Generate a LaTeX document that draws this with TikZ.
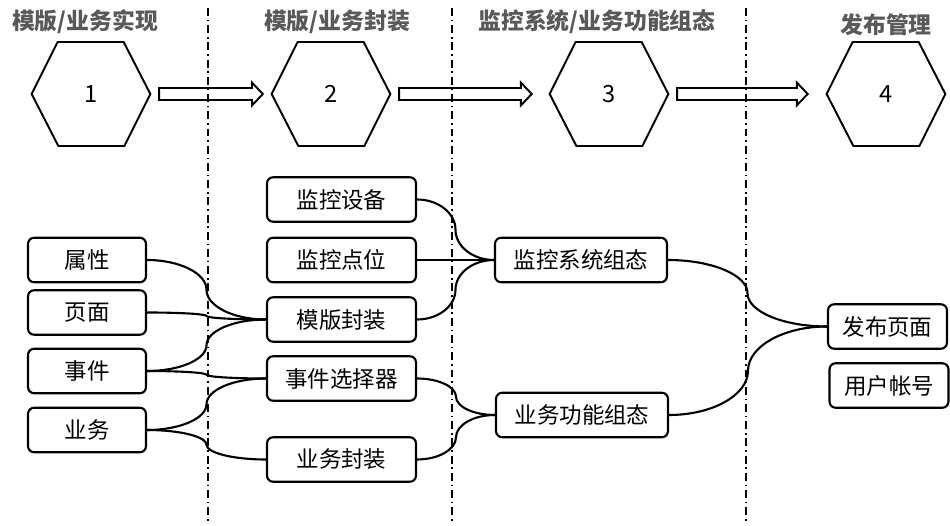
\documentclass[tikz,border=0pt]{standalone}
\usepackage{fontspec}
\setmainfont{Noto Sans CJK SC}
\usetikzlibrary{calc}

% curly link between boxes: two quarter-ellipses meeting halfway
\newcommand\linkbox[2]{\draw[link] let \p1=(#1.east), \p2=(#2.west), \p3=($(#1.east)!.5!(#2.west)$) in
  (\p1) .. controls (\x1+0.55*\x3-0.55*\x1,\y1) and (\x3,\y3+0.55*\y1-0.55*\y3) .. (\p3)
  .. controls (\x3,\y3+0.55*\y2-0.55*\y3) and (\x2-0.55*\x2+0.55*\x3,\y2) .. (\p2);}
% hollow arrow between two hexagons
\newcommand\fatarrow[3]{\draw[line width=1.1pt] let \p1=(#1.east), \p2=(#2.west) in
  (\x1+5pt,\y1+3.4pt) -- (\x2-#3-6.2pt,\y1+3.4pt) -- (\x2-#3-6.2pt,\y1+6.5pt) -- (\x2-#3,\y1)
  -- (\x2-#3-6.2pt,\y1-6.5pt) -- (\x2-#3-6.2pt,\y1-3.4pt) -- (\x1+5pt,\y1-3.4pt) -- cycle;}

\tikzset{
  box/.style={draw, line width=1.2pt, rounded corners=3.5pt, minimum height=0.89cm, inner sep=0pt, font=\fontsize{12.8}{14}\selectfont},
  hexnum/.style={minimum width=2.36cm, minimum height=2.08cm, inner sep=0pt, font=\fontsize{13.5}{16}\selectfont},
  title/.style={text=black!65, font=\fontsize{13}{16}\selectfont\bfseries},
  divider/.style={line width=0.9pt, dash pattern=on 4.5pt off 2.2pt on 0.9pt off 2.2pt},
  link/.style={line width=1.2pt},
}

\begin{document}
\begin{tikzpicture}[x=0.02cm, y=-0.02cm]
  \useasboundingbox (0,0) rectangle (950,526);

  % dividers
  \draw[divider] (208,8) -- (208,522);
  \draw[divider] (452,8) -- (452,522);
  \draw[divider] (746,8) -- (746,522);

  % titles
  \node[title] (t1) at (85,22) {模版/业务实现};
  \node[title] (t2) at (337,22) {模版/业务封装};
  \node[title] (t3) at (597,22) {监控系统/业务功能组态};
  \node[title] (t4) at (886,25) {发布管理};

  % hexagons
  \foreach \n/\x in {1/91,2/331,3/609,4/886}{
    \node[hexnum] (hex\n) at (\x,94) {\n};
    \draw[line width=1.1pt] (hex\n.west) -- ++(26,-52) -- ++(66,0) -- (hex\n.east) -- ++(-26,52) -- ++(-66,0) -- cycle;
  }
  \fatarrow{hex1}{hex2}{5pt}
  \fatarrow{hex2}{hex3}{10.2pt}
  \fatarrow{hex3}{hex4}{10.8pt}

  % column 1
  \node[box, minimum width=2.36cm] (attr) at (87,260) {属性};
  \node[box, minimum width=2.36cm] (page) at (87,312.5) {页面};
  \node[box, minimum width=2.36cm] (event) at (87,371) {事件};
  \node[box, minimum width=2.36cm] (biz) at (87,430) {业务};

  % column 2
  \node[box, minimum width=2.98cm] (dev) at (341.5,199.5) {监控设备};
  \node[box, minimum width=2.98cm] (point) at (341.5,260) {监控点位};
  \node[box, minimum width=2.98cm] (tpl) at (341.5,319.5) {模版封装};
  \node[box, minimum width=2.98cm] (sel) at (341.5,378.5) {事件选择器};
  \node[box, minimum width=2.98cm] (bizpack) at (341.5,459.5) {业务封装};

  % column 3
  \node[box, minimum width=3.44cm] (monsys) at (581,260) {监控系统组态};
  \node[box, minimum width=3.44cm] (bizfun) at (582,415) {业务功能组态};

  % column 4
  \node[box, minimum width=2.38cm] (pubpage) at (887.5,326.5) {发布页面};
  \node[box, minimum width=2.38cm] (account) at (889,385.5) {用户帐号};

  % links
  \linkbox{attr}{tpl}
  \linkbox{page}{tpl}
  \linkbox{event}{tpl}
  \linkbox{event}{sel}
  \linkbox{biz}{sel}
  \linkbox{biz}{bizpack}
  \linkbox{dev}{monsys}
  \draw[link] (point.east) -- (monsys.west);
  \linkbox{tpl}{monsys}
  \linkbox{sel}{bizfun}
  \linkbox{bizpack}{bizfun}
  \linkbox{monsys}{pubpage}
  \linkbox{bizfun}{pubpage}
\end{tikzpicture}
\end{document}
